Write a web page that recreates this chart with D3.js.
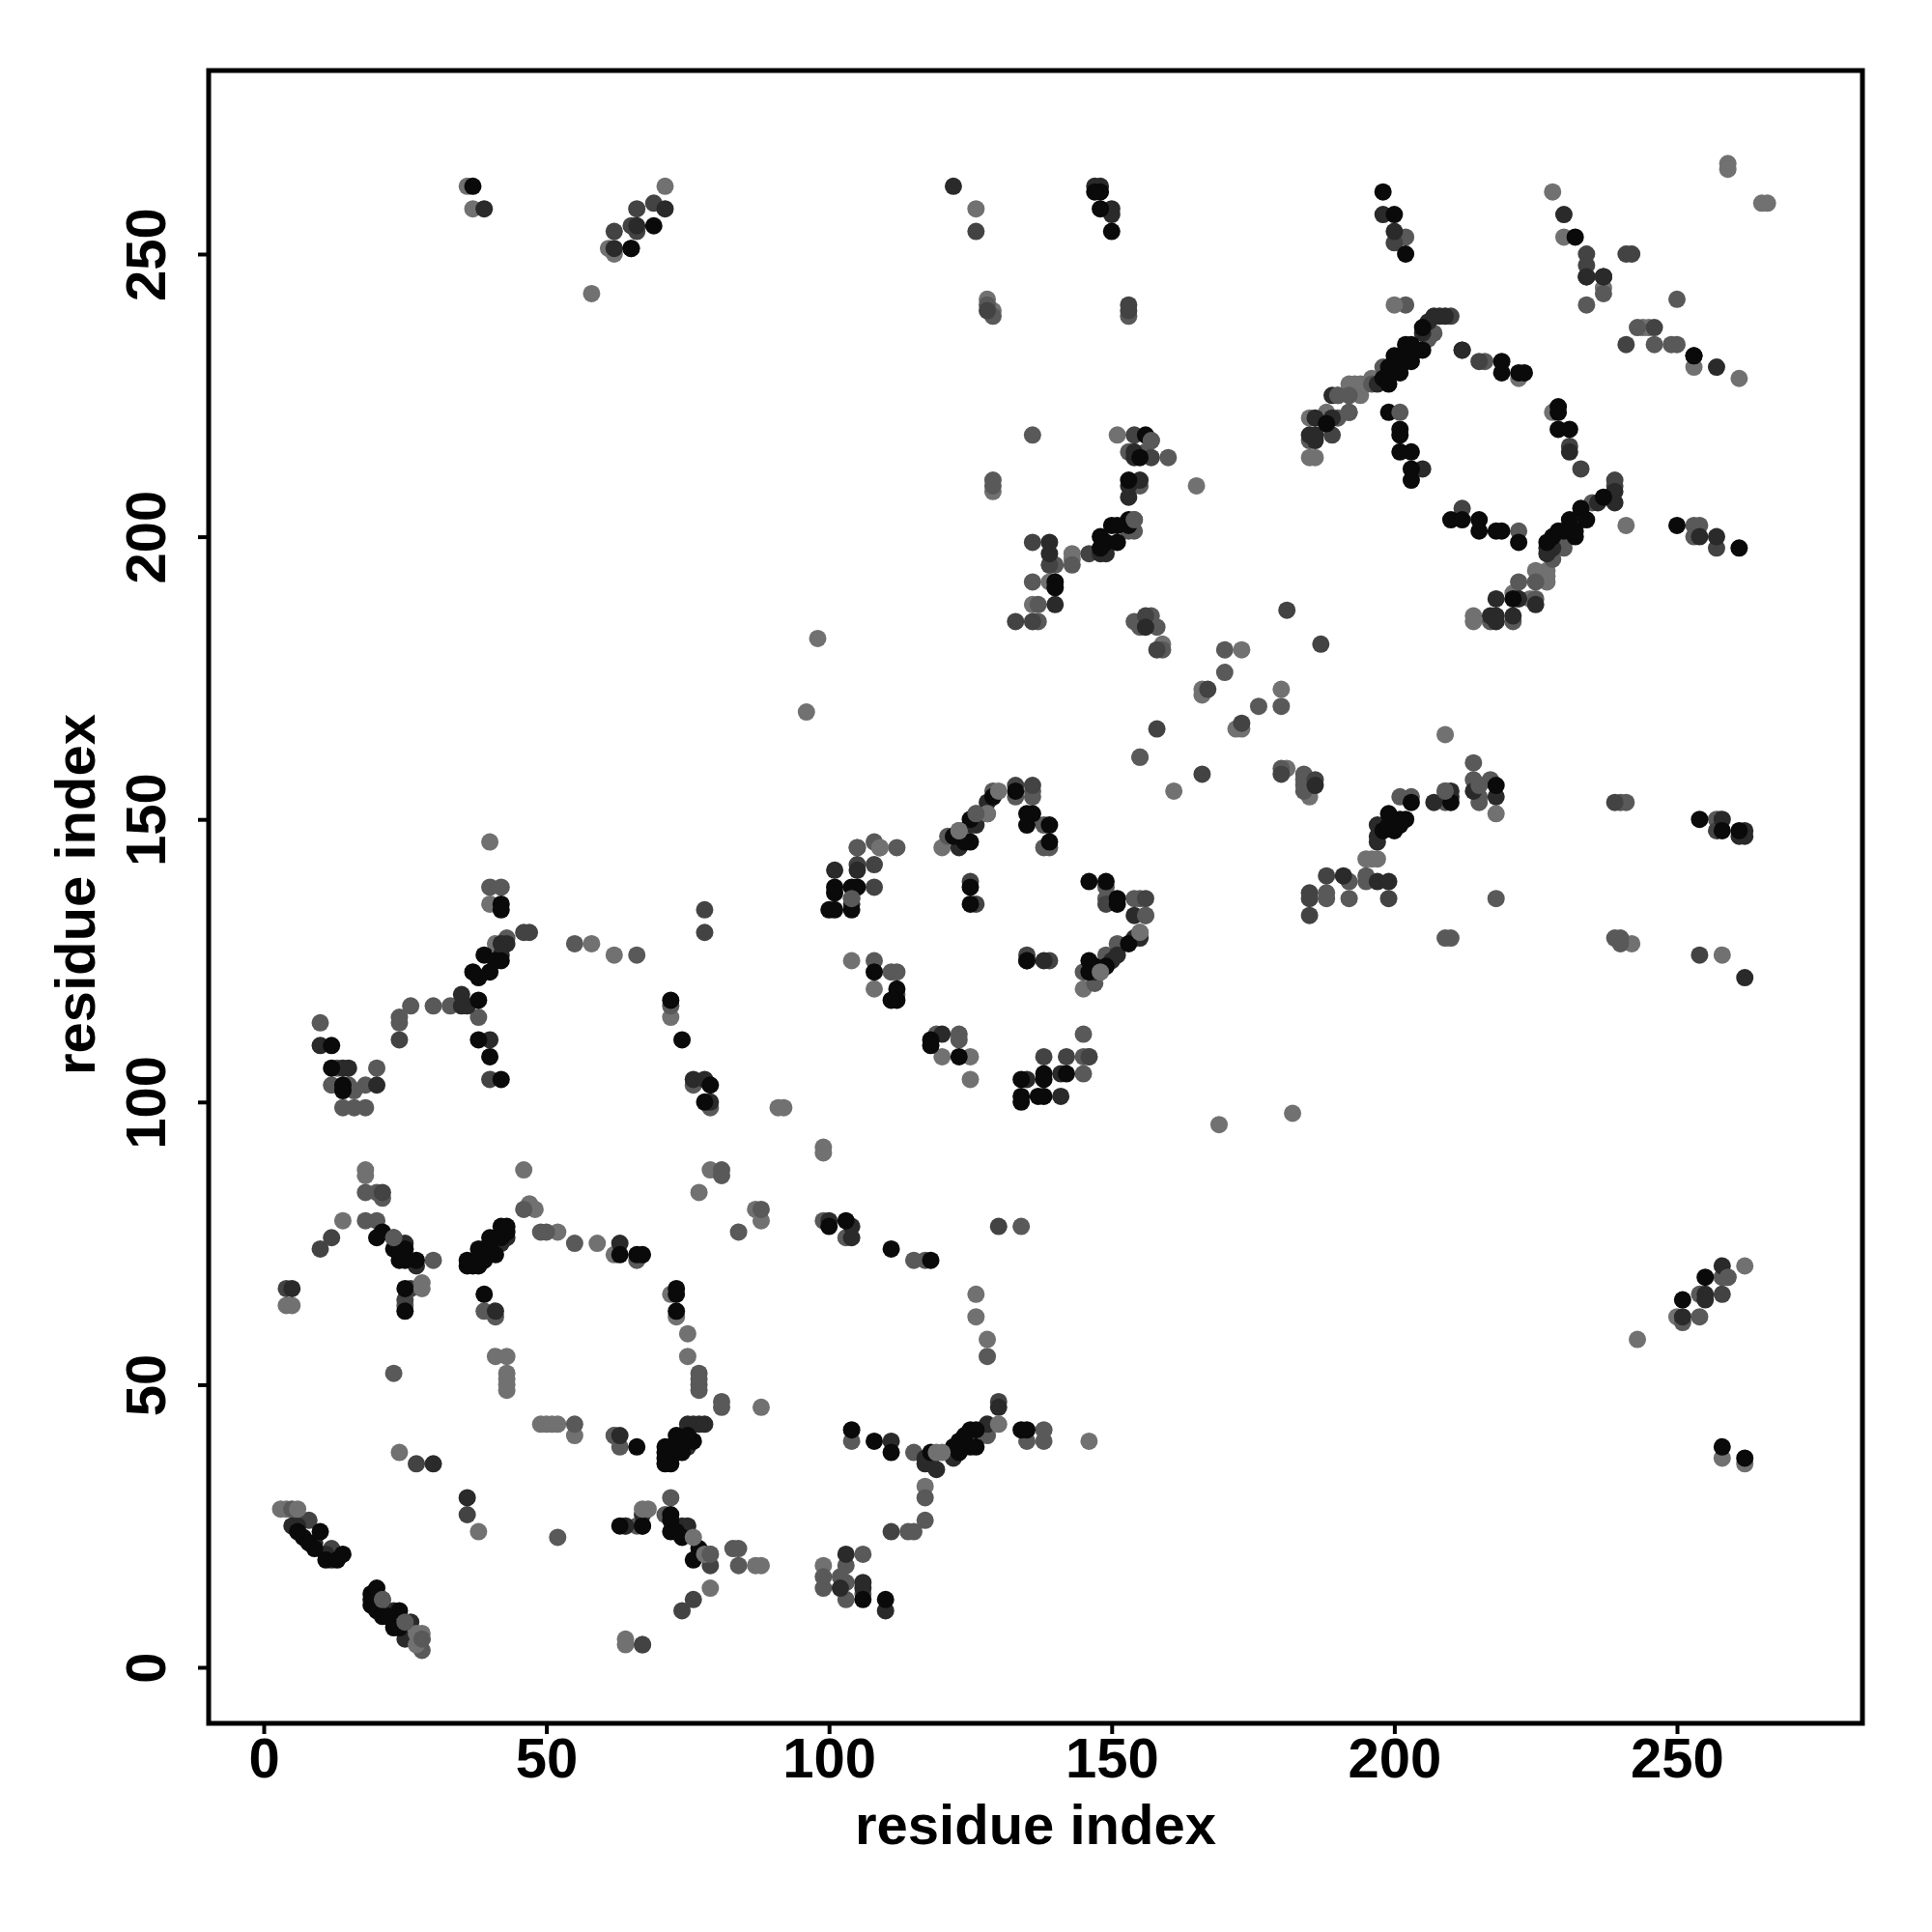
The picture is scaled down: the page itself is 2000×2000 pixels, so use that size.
<!DOCTYPE html>
<html><head><meta charset="utf-8"><style>html,body{margin:0;background:#fff}svg{display:block}text{font-family:"Liberation Sans",Arial,sans-serif;font-weight:700;fill:#000}</style>
<script src="https://cdn.jsdelivr.net/npm/d3@7"></script></head><body><div id="c"></div>
<script>
const tickValues=[0,50,100,150,200,250];
const axisLabel="residue index";
const lightPts=[[3,28],[4,28],[58,243],[36,262],[37,258],[71,262],[62,250],[61,251],[126,258],[128,242],[129,240],[18,88],[18,87],[46,88],[47,82],[48,81],[14,79],[40,146],[40,135],[41,128],[58,128],[62,126],[72,115],[92,99],[91,99],[4,64],[5,64],[24,38],[38,24],[41,55],[43,55],[43,52],[43,51],[43,50],[43,49],[49,43],[50,43],[51,43],[52,43],[55,41],[62,41],[62,73],[52,77],[59,75],[72,66],[73,62],[75,59],[75,55],[88,46],[79,88],[77,84],[87,81],[88,79],[79,14],[87,18],[88,18],[64,5],[64,4],[99,92],[99,91],[99,18],[126,66],[126,62],[128,58],[117,32],[146,40],[169,96],[182,98],[96,169],[98,182],[104,125],[108,120],[120,108],[125,108],[125,104],[105,145],[120,145],[145,120],[129,208],[151,218],[165,209],[143,197],[143,196],[139,192],[136,188],[173,180],[159,181],[155,161],[161,155],[166,173],[166,172],[172,166],[173,166],[180,173],[181,159],[185,154],[209,165],[218,151],[242,128],[258,126],[195,143],[196,143],[197,143],[243,58],[262,71],[250,62],[258,37],[262,36],[228,261],[230,253],[259,266],[259,265],[265,259],[266,259],[253,230],[261,228],[237,244],[244,237],[245,237],[185,214],[186,214],[185,221],[222,228],[225,194],[227,194],[227,193],[227,192],[224,189],[221,190],[214,186],[214,185],[228,222],[241,202],[188,222],[192,227],[193,227],[194,227],[194,225],[195,227],[196,228]];
const midPts=[[5,28],[6,26],[18,84],[20,84],[21,83],[18,79],[20,79],[23,52],[52,23],[30,72],[46,81],[49,77],[50,77],[55,75],[55,43],[66,72],[62,41],[63,39],[41,62],[39,63],[25,64],[77,52],[77,51],[77,50],[77,49],[81,46],[81,47],[84,77],[88,81],[81,87],[81,88],[84,21],[83,21],[84,18],[64,25],[66,25],[67,4],[71,27],[72,30],[79,20],[28,3],[28,5],[99,79],[103,76],[99,16],[99,14],[104,40],[115,72],[117,72],[115,38],[117,30],[117,26],[114,24],[115,24],[128,55],[127,42],[128,41],[134,78],[135,40],[138,42],[138,40],[103,18],[103,15],[103,12],[106,20],[106,13],[102,16],[10,114],[13,106],[12,103],[15,103],[18,103],[16,102],[16,99],[14,99],[18,99],[20,106],[26,117],[24,115],[24,114],[30,117],[33,117],[38,115],[40,138],[42,138],[43,129],[55,128],[66,126],[72,117],[76,103],[79,99],[121,147],[123,148],[126,151],[128,151],[129,155],[133,154],[136,154],[136,155],[138,149],[139,145],[138,145],[104,136],[105,145],[108,146],[109,145],[112,145],[108,125],[111,123],[112,123],[112,119],[119,112],[123,112],[123,111],[145,112],[146,108],[145,105],[145,108],[145,123],[147,121],[148,123],[149,126],[149,138],[149,136],[151,128],[154,136],[155,136],[156,133],[155,130],[129,210],[129,209],[128,241],[129,239],[153,239],[136,218],[153,215],[156,215],[157,217],[160,214],[155,209],[154,203],[154,201],[153,201],[139,195],[140,195],[136,192],[137,188],[137,185],[143,195],[154,185],[155,184],[157,186],[158,184],[159,180],[170,180],[170,176],[176,170],[180,170],[180,159],[184,158],[184,157],[184,156],[184,155],[185,156],[155,161],[188,137],[188,136],[192,139],[192,136],[195,140],[195,139],[218,136],[209,129],[210,129],[239,129],[240,129],[240,128],[203,154],[201,154],[209,155],[209,153],[214,160],[214,157],[215,156],[215,154],[215,153],[217,157],[241,153],[240,153],[257,150],[258,69],[259,69],[254,66],[254,62],[251,61],[202,241],[190,225],[192,225],[192,222],[190,221],[185,217],[196,227],[198,230],[207,236],[206,235],[228,196],[229,199],[230,198],[225,192],[222,192],[225,189],[221,185],[217,185],[222,201],[231,200],[235,206],[216,231],[246,234],[250,234],[243,237],[250,242],[237,243],[234,241],[234,246],[253,202],[254,202],[253,200],[202,253],[249,234]];
const darkMidPts=[[8,26],[12,21],[10,74],[12,76],[4,67],[27,36],[36,27],[76,12],[74,10],[79,18],[67,4],[21,84],[25,65],[26,67],[46,130],[47,130],[78,130],[78,134],[24,111],[40,104],[105,142],[108,142],[108,138],[125,139],[156,136],[149,135],[146,108],[142,108],[138,108],[135,126],[139,125],[126,135],[129,154],[133,156],[136,156],[111,24],[130,47],[130,78],[128,240],[126,254],[66,258],[66,254],[62,254],[69,259],[65,255],[153,241],[153,240],[136,199],[139,195],[133,185],[136,185],[154,218],[157,214],[181,187],[187,181],[167,173],[173,167],[158,166],[166,158],[158,180],[156,186],[186,157],[180,158],[239,153],[185,137],[185,136],[185,133],[199,136],[254,126],[257,148],[258,66],[189,218],[188,140],[234,248],[234,250],[241,250],[242,250],[241,234],[246,237],[237,246],[239,210],[239,209],[210,239],[215,231],[212,233],[231,216],[233,212],[257,198],[234,246],[200,252],[212,205],[146,197]];
const darkPts=[[9,22],[11,20],[12,19],[5,25],[6,25],[21,12],[23,10],[25,5],[26,8],[25,8],[30,36],[36,30],[25,75],[5,67],[23,76],[25,74],[27,71],[64,25],[67,27],[75,25],[74,25],[63,75],[41,63],[39,74],[43,76],[42,75],[63,41],[67,25],[75,42],[76,43],[77,43],[78,43],[75,43],[72,38],[75,39],[100,79],[104,78],[104,76],[103,20],[102,14],[106,15],[106,14],[110,10],[111,40],[128,43],[122,37],[117,37],[117,36],[118,36],[119,35],[130,46],[122,262],[39,258],[71,258],[65,251],[62,251],[66,255],[147,262],[148,262],[150,258],[150,257],[10,110],[15,106],[14,106],[20,103],[36,117],[35,117],[35,119],[40,111],[43,128],[42,126],[42,128],[76,104],[78,104],[79,100],[101,141],[105,141],[104,135],[123,145],[126,149],[125,149],[128,153],[120,112],[135,104],[141,105],[141,101],[138,125],[135,125],[150,125],[154,129],[155,129],[154,133],[151,126],[147,123],[153,209],[155,210],[153,207],[154,215],[154,214],[139,199],[139,197],[140,188],[148,197],[149,197],[156,184],[186,156],[210,155],[210,154],[214,155],[218,154],[197,149],[197,147],[197,146],[197,139],[199,139],[191,140],[207,153],[262,148],[262,147],[261,147],[258,150],[255,66],[255,65],[258,71],[251,62],[262,122],[189,225],[189,221],[186,221],[185,218],[186,218],[186,217],[207,239],[208,239],[209,239],[206,238],[205,236],[200,231],[197,227],[205,212],[230,257],[237,246],[234,246],[198,257],[200,254],[237,246],[253,232],[257,230],[231,215],[233,203],[236,206],[238,207],[239,208],[239,206],[228,198],[227,198],[227,197],[225,188],[222,189],[218,189],[217,186],[218,186],[218,185],[221,186],[212,233],[257,200],[254,200]];
const blackPts=[[6,24],[7,23],[8,22],[9,21],[10,24],[11,19],[13,19],[14,20],[19,11],[19,12],[19,13],[20,14],[20,10],[21,9],[22,9],[23,7],[24,10],[24,7],[21,77],[20,76],[23,74],[24,72],[25,72],[27,72],[25,74],[25,67],[25,63],[36,71],[36,72],[37,71],[38,71],[38,72],[39,72],[38,74],[39,73],[40,74],[40,76],[41,73],[42,76],[43,77],[43,78],[42,78],[39,66],[73,66],[73,67],[73,63],[63,73],[66,73],[67,73],[66,39],[71,36],[72,36],[71,37],[71,38],[71,39],[72,39],[73,38],[73,39],[73,41],[74,38],[75,40],[76,40],[75,41],[72,27],[72,26],[72,24],[73,24],[74,23],[77,21],[76,19],[67,25],[63,25],[104,42],[108,40],[111,38],[111,74],[118,72],[103,79],[100,78],[106,12],[110,12],[118,38],[123,38],[123,40],[122,39],[125,39],[126,39],[125,42],[126,42],[124,41],[134,42],[135,42],[37,262],[69,255],[65,251],[148,261],[147,261],[148,258],[150,254],[12,110],[12,106],[14,103],[14,102],[37,123],[38,122],[38,118],[39,126],[40,123],[41,125],[42,125],[42,135],[42,134],[38,111],[40,108],[42,104],[72,118],[74,111],[79,103],[78,100],[101,138],[101,137],[104,138],[105,138],[100,134],[101,134],[104,134],[122,147],[124,146],[125,146],[125,150],[133,155],[129,154],[135,151],[136,151],[135,149],[139,149],[139,146],[125,138],[125,135],[135,125],[108,123],[112,120],[112,118],[111,118],[118,111],[118,110],[123,108],[138,105],[138,104],[134,104],[142,105],[134,101],[134,100],[137,101],[138,101],[146,139],[149,139],[151,136],[151,135],[153,128],[149,124],[146,125],[146,123],[147,124],[156,218],[155,214],[153,210],[153,203],[153,202],[150,202],[151,202],[151,199],[148,200],[149,199],[148,198],[140,192],[140,191],[203,153],[202,150],[201,150],[199,151],[200,148],[201,149],[198,148],[199,149],[210,153],[218,156],[254,150],[258,148],[261,148],[255,69],[251,65],[258,39],[262,37],[205,237],[202,234],[203,234],[204,233],[205,233],[200,232],[202,232],[203,231],[201,230],[199,230],[199,229],[201,229],[198,228],[199,227],[188,220],[199,222],[201,219],[201,218],[201,215],[203,215],[203,212],[203,210],[219,231],[219,229],[222,229],[223,229],[229,223],[229,222],[229,219],[231,219],[237,207],[233,205],[234,203],[231,203],[232,201],[229,201],[230,201],[232,200],[228,200],[227,199],[221,189],[210,203],[212,203],[215,203],[215,201],[218,201],[219,201],[222,199],[250,202],[261,198],[198,261],[200,257],[202,250],[232,253],[253,232]];
const overlayLight=[[6,28],[28,6],[27,6],[27,4],[28,68],[28,67],[67,28],[68,28],[76,23],[78,20],[123,148],[130,155],[130,43],[119,38],[120,38],[155,130],[123,148],[128,151],[109,145],[148,123],[200,241]];
const overlayMid=[[28,5],[79,20],[23,76],[157,217],[154,203],[21,12],[25,8],[156,133],[259,69],[215,156],[209,155],[126,151],[104,136],[201,222],[192,222],[190,225]];

const W=2000,H=2000,color={light:"#717171",mid:"#595959",darkMid:"#434343",dark:"#2a2a2a",black:"#0a0a0a"};
const x=d3.scaleLinear().domain([0,250]).range([273,1736]);
const y=d3.scaleLinear().domain([0,250]).range([1726,263]);
const left=216,right=1928,top_=73,bottom=1784;
const svg=d3.select("#c").append("svg").attr("width",W).attr("height",H);
const layers=[[lightPts,color.light],[midPts,color.mid],[darkMidPts,color.darkMid],[darkPts,color.dark],[blackPts,color.black],[overlayLight,color.light],[overlayMid,color.mid]];
layers.forEach(([pts,c])=>svg.append("g").selectAll("circle").data(pts).join("circle")
  .attr("cx",d=>x(d[0])).attr("cy",d=>y(d[1])).attr("r",9).attr("fill",c));
svg.append("rect").attr("x",left).attr("y",top_).attr("width",right-left).attr("height",bottom-top_).attr("fill","none").attr("stroke","#000").attr("stroke-width",5);
const ax=svg.append("g").attr("transform",`translate(0,${bottom})`).call(d3.axisBottom(x).tickValues(tickValues).tickSize(11).tickPadding(0));
ax.select(".domain").remove();
ax.selectAll("line").attr("stroke","#000").attr("stroke-width",4);
ax.selectAll("text").attr("y",56).attr("dy",0).attr("font-size",58).attr("text-anchor","middle");
const ay=svg.append("g").attr("transform",`translate(${left},0)`).call(d3.axisLeft(y).tickValues(tickValues).tickSize(11));
ay.select(".domain").remove();
ay.selectAll("line").attr("stroke","#000").attr("stroke-width",4);
ay.selectAll("text").attr("x",0).attr("dy",0).attr("font-size",58).attr("text-anchor","middle").attr("transform",d=>`translate(-45,${y(d)-y(d)}) rotate(-90)`);
svg.append("text").attr("x",1072).attr("y",1909).attr("text-anchor","middle").attr("font-size",58).text(axisLabel);
svg.append("text").attr("transform","translate(98,926) rotate(-90)").attr("text-anchor","middle").attr("font-size",58).text(axisLabel);
</script></body></html>
